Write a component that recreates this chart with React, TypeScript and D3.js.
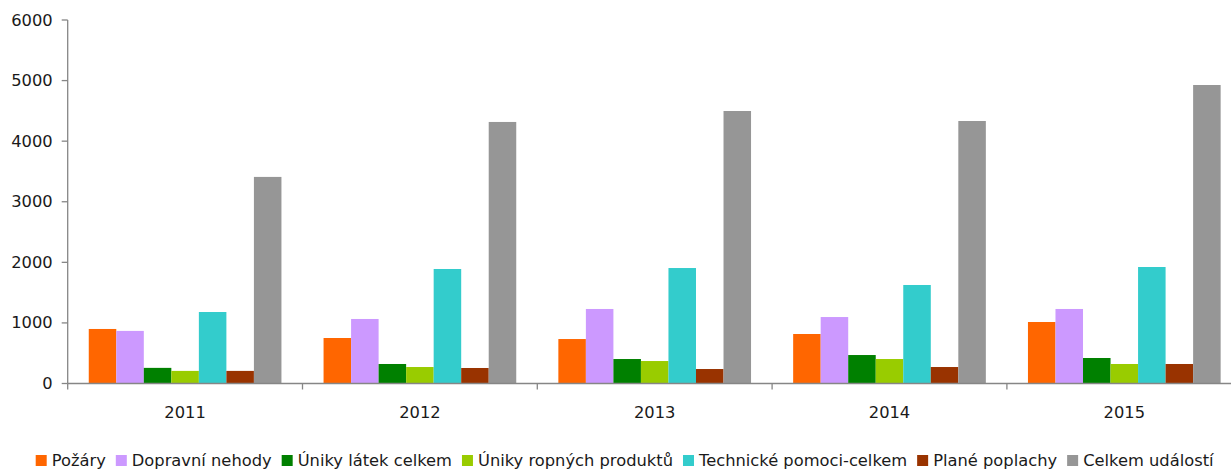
import React, { useEffect, useRef } from "react";
import * as d3 from "d3";

const years = ["2011", "2012", "2013", "2014", "2015"];
const seriesNames = [
  "Požáry",
  "Dopravní nehody",
  "Úniky látek celkem",
  "Úniky ropných produktů",
  "Technické pomoci-celkem",
  "Plané poplachy",
  "Celkem událostí",
];
const seriesColors = ["#FF6600", "#CC99FF", "#008000", "#99CC00", "#33CCCC", "#993300", "#969696"];

const pozary = [900, 751, 734, 817, 1015];
const dopravniNehody = [868, 1065, 1230, 1097, 1230];
const unikyLatek = [258, 322, 404, 470, 421];
const unikyRopnych = [208, 272, 371, 404, 322];
const technickePomoci = [1180, 1890, 1906, 1626, 1923];
const planePoplachy = [208, 256, 239, 272, 322];
const celkemUdalosti = [3410, 4317, 4498, 4333, 4927];

const seriesValues = [pozary, dopravniNehody, unikyLatek, unikyRopnych, technickePomoci, planePoplachy, celkemUdalosti];
const yTicks = [0, 1000, 2000, 3000, 4000, 5000, 6000];

const W = 1231;
const H = 469;
const FONT = "'DejaVu Sans', Verdana, sans-serif";
const FS = 15;
const SX = 1.087;

export default function App() {
  const ref = useRef<SVGSVGElement | null>(null);

  useEffect(() => {
    const svg = d3.select(ref.current);
    svg.selectAll("*").remove();

    const left = 67.7;
    const band = 234.8;
    const right = left + band * years.length;
    const top = 20;
    const bottom = 383.5;

    const x = d3.scaleBand<string>().domain(years).range([left, right]).padding(0);
    const xi = d3
      .scaleBand<string>()
      .domain(seriesNames)
      .range([0, x.bandwidth()])
      .paddingInner(0)
      .paddingOuter(0.765);
    const y = d3.scaleLinear().domain([0, 6000]).range([bottom, top]);

    // bars
    seriesNames.forEach((name, si) => {
      svg
        .append("g")
        .selectAll("rect")
        .data(seriesValues[si])
        .join("rect")
        .attr("x", (_d, i) => (x(years[i]) as number) + (xi(name) as number))
        .attr("y", (d) => y(d))
        .attr("width", xi.bandwidth())
        .attr("height", (d) => bottom - y(d))
        .attr("fill", seriesColors[si]);
    });

    const axisColor = "#868686";
    // y axis
    svg
      .append("line")
      .attr("x1", left)
      .attr("x2", left)
      .attr("y1", top)
      .attr("y2", bottom)
      .attr("stroke", axisColor)
      .attr("stroke-width", 1.3);
    const yt = svg.append("g");
    yTicks.forEach((t) => {
      yt.append("line")
        .attr("x1", left - 6)
        .attr("x2", left)
        .attr("y1", y(t))
        .attr("y2", y(t))
        .attr("stroke", axisColor)
        .attr("stroke-width", 1.3);
      yt.append("g")
        .attr("transform", `translate(${left - 15},${y(t) + 5.5}) scale(${SX},1)`)
        .append("text")
        .attr("text-anchor", "end")
        .attr("font-family", FONT)
        .attr("font-size", FS)
        .attr("fill", "#1a1a1a")
        .text(String(t));
    });

    // x axis
    svg
      .append("line")
      .attr("x1", left)
      .attr("x2", W)
      .attr("y1", bottom)
      .attr("y2", bottom)
      .attr("stroke", axisColor)
      .attr("stroke-width", 1.3);
    const xt = svg.append("g");
    years.forEach((yr) => {
      const x0 = x(yr) as number;
      xt.append("line")
        .attr("x1", x0)
        .attr("x2", x0)
        .attr("y1", bottom)
        .attr("y2", bottom + 6)
        .attr("stroke", axisColor)
        .attr("stroke-width", 1.3);
      xt.append("g")
        .attr("transform", `translate(${x0 + x.bandwidth() / 2},418) scale(${SX},1)`)
        .append("text")
        .attr("text-anchor", "middle")
        .attr("font-family", FONT)
        .attr("font-size", FS)
        .attr("fill", "#1a1a1a")
        .text(yr);
    });

    // legend
    const lg = svg.append("g");
    let cx = 35.7;
    seriesNames.forEach((name, si) => {
      lg.append("rect")
        .attr("x", cx)
        .attr("y", 455)
        .attr("width", 11)
        .attr("height", 11)
        .attr("fill", seriesColors[si]);
      const tx = cx + 16;
      const t = lg
        .append("g")
        .attr("transform", `translate(${tx},466) scale(${SX},1)`)
        .append("text")
        .attr("font-family", FONT)
        .attr("font-size", FS)
        .attr("fill", "#1a1a1a")
        .text(name);
      const w = (t.node() as SVGTextElement).getComputedTextLength() * SX;
      cx = tx + w + 10;
    });
  }, []);

  return (
    <svg
      ref={ref}
      width={W}
      height={H}
      style={{ position: "absolute", left: 0, top: 0, background: "#fff" }}
    />
  );
}
